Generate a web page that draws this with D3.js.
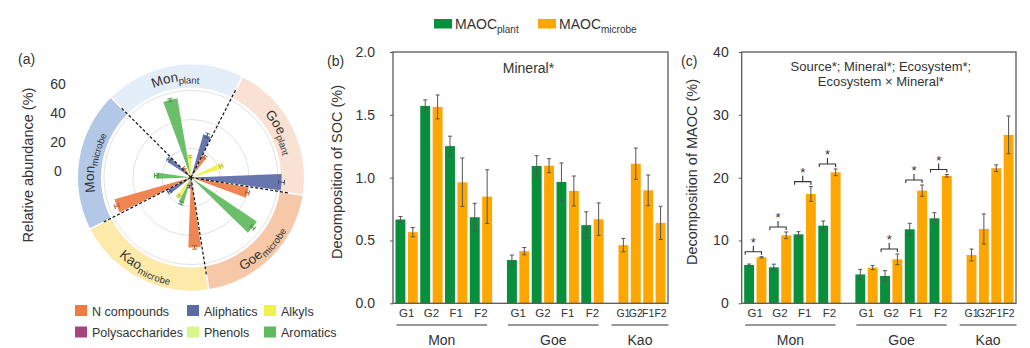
<!DOCTYPE html>
<html>
<head>
<meta charset="utf-8">
<script src="https://cdn.jsdelivr.net/npm/d3@7"></script>
<style>
body { margin: 0; background: #fff; }
svg { font-family: "Liberation Sans", Arial, sans-serif; }
</style>
</head>
<body>
<script>
// ---- panel (a) data: relative abundance (%) per sector, ring order of compounds
var ringCompounds = ["N compounds", "Polysaccharides", "Aromatics", "Alkyls", "Phenols", "Aliphatics"];
var legendCompounds = ["N compounds", "Aliphatics", "Alkyls", "Polysaccharides", "Phenols", "Aromatics"];
var sectorNames = ["Mon", "Goe", "Goe", "Kao", "Mon"];
var sectorSubs = ["plant", "plant", "microbe", "microbe", "microbe"];
var monPlant = [7.8, 1.5, 55.4, 14.5, 2.0, 31.0];
var goePlant = [17.1, 1.0, 1.5, 22.2, 1.2, 62.5];
var goeMicrobe = [40.3, 1.5, 54.7, 2.0, 1.0, 3.0];
var kaoMicrobe = [48.3, 6.5, 18.9, 15.3, 3.0, 17.8];
var monMicrobe = [54.8, 1.5, 24.0, 2.0, 1.5, 19.6];
var monPlantErr = [0.8, 0.3, 1.0, 0.8, 0.3, 1.5];
var goePlantErr = [1.0, 0.3, 0.3, 1.0, 0.3, 2.0];
var goeMicrobeErr = [1.2, 0.3, 1.5, 0.3, 0.3, 0.5];
var kaoMicrobeErr = [1.2, 0.8, 1.0, 0.8, 0.5, 1.0];
var monMicrobeErr = [1.5, 0.3, 1.2, 0.3, 0.3, 1.0];
var radialTicks = [0, 20, 40, 60];

// ---- panels (b) and (c) data
var minerals = ["Mon", "Goe", "Kao"];
var ecosystems = ["G1", "G2", "F1", "F2"];
// plant values exist for Mon and Goe only; microbe for Mon, Goe, Kao
var socPlant = [0.667, 1.571, 1.251, 0.685, 0.344, 1.093, 0.966, 0.622];
var socPlantErr = [0.024, 0.048, 0.079, 0.111, 0.040, 0.082, 0.151, 0.106];
var socMicrobe = [0.566, 1.563, 0.963, 0.849, 0.415, 1.095, 0.894, 0.669, 0.463, 1.111, 0.899, 0.640];
var socMicrobeErr = [0.037, 0.095, 0.193, 0.214, 0.029, 0.056, 0.119, 0.130, 0.053, 0.124, 0.122, 0.132];
var maocPlant = [6.1, 5.73, 10.98, 12.36, 4.6, 4.35, 11.78, 13.53];
var maocPlantErr = [0.15, 0.5, 0.42, 0.74, 0.8, 0.85, 0.95, 0.9];
var maocMicrobe = [7.32, 10.82, 17.4, 20.85, 5.68, 7.0, 17.93, 20.3, 7.69, 11.83, 21.5, 26.8];
var maocMicrobeErr = [0.1, 0.53, 1.17, 0.53, 0.32, 0.85, 0.9, 0.2, 0.95, 2.4, 0.53, 3.0];
var maocSig = [true, true, true, true, false, true, true, true];
var socTicks = [0, 0.5, 1.0, 1.5, 2.0];
var maocTicks = [0, 10, 20, 30, 40];

var compoundColor = {
  "N compounds": "#ee7b43",
  "Polysaccharides": "#a4457d",
  "Aromatics": "#5fba5d",
  "Alkyls": "#eef24a",
  "Phenols": "#d6f78a",
  "Aliphatics": "#5a6aa5"
};
var bandColors = ["#e4eef9", "#f9e2d3", "#f6c8a7", "#fde9a9", "#b3c7e7"];
var plantColor = "#078f3c";
var microbeColor = "#ffa600";
var textColor = "#333";

var svg = d3.select('body')
  .append('svg')
  .attr('width', 1030)
  .attr('height', 348);

// ================= panel (a) =================
var rad = Math.PI / 180;
var cx = 191, cy = 177.5;
var ringInner = 90, ringOuter = 113;
var sectorStart = -45, sectorSpan = 72, barSpan = 12;
var rScale = d3.scaleLinear().domain([0, 60]).range([0, 87]);
var sectorValues = [monPlant, goePlant, goeMicrobe, kaoMicrobe, monMicrobe];
var sectorErrs = [monPlantErr, goePlantErr, goeMicrobeErr, kaoMicrobeErr, monMicrobeErr];

function polar(a, r) { return [r * Math.sin(a * rad), -r * Math.cos(a * rad)]; }

var gA = svg.append('g')
  .attr('transform', 'translate(' + cx + ',' + cy + ')');

var ringArc = d3.arc()
  .innerRadius(ringInner)
  .outerRadius(ringOuter)
  .padAngle(0.013)
  .padRadius(ringOuter);

gA.selectAll('path.band')
  .data(sectorNames)
  .enter()
  .append('path')
  .attr('class', 'band')
  .attr('d', function(d, i) {
    return ringArc({ startAngle: (sectorStart + i * sectorSpan) * rad,
                     endAngle: (sectorStart + (i + 1) * sectorSpan) * rad });
  })
  .attr('fill', function(d, i) { return bandColors[i]; });

// grid circles
gA.selectAll('circle.grid')
  .data(radialTicks.slice(1))
  .enter()
  .append('circle')
  .attr('r', function(d) { return rScale(d); })
  .attr('fill', 'none')
  .attr('stroke', '#e2e2e2')
  .attr('stroke-width', 1);

// bars
var bars = [];
sectorValues.forEach(function(vals, i) {
  vals.forEach(function(v, j) {
    bars.push({
      angle: sectorStart + i * sectorSpan + barSpan / 2 + j * barSpan,
      value: v,
      err: sectorErrs[i][j],
      color: compoundColor[ringCompounds[j]]
    });
  });
});

var wedge = d3.arc().innerRadius(0);
gA.selectAll('path.bar')
  .data(bars)
  .enter()
  .append('path')
  .attr('d', function(d) {
    return wedge({ outerRadius: rScale(d.value),
                   startAngle: (d.angle - 5.2) * rad,
                   endAngle: (d.angle + 5.2) * rad });
  })
  .attr('fill', function(d) { return d.color; })
  .attr('fill-opacity', 0.92);

// error bars along the bar axis
var errG = gA.selectAll('g.err')
  .data(bars.filter(function(d) { return d.value > 3; }))
  .enter()
  .append('g')
  .attr('transform', function(d) { return 'rotate(' + d.angle + ')'; })
  .attr('stroke', function(d) { return d3.color(d.color).darker(0.7); })
  .attr('stroke-width', 1);
errG.append('line')
  .attr('x1', 0).attr('x2', 0)
  .attr('y1', function(d) { return -rScale(d.value - d.err); })
  .attr('y2', function(d) { return -rScale(d.value + d.err); });
errG.append('line')
  .attr('x1', -2.5).attr('x2', 2.5)
  .attr('y1', function(d) { return -rScale(d.value + d.err); })
  .attr('y2', function(d) { return -rScale(d.value + d.err); });
errG.append('line')
  .attr('x1', -2.5).attr('x2', 2.5)
  .attr('y1', function(d) { return -rScale(d.value - d.err); })
  .attr('y2', function(d) { return -rScale(d.value - d.err); });

// dashed sector dividers
gA.selectAll('line.divider')
  .data(sectorNames)
  .enter()
  .append('line')
  .attr('x1', 0).attr('y1', 0)
  .attr('x2', function(d, i) { return polar(sectorStart + i * sectorSpan, ringInner + 8)[0]; })
  .attr('y2', function(d, i) { return polar(sectorStart + i * sectorSpan, ringInner + 8)[1]; })
  .attr('stroke', '#111')
  .attr('stroke-width', 1.2)
  .attr('stroke-dasharray', '3,2');

// ring labels on curved paths
var defs = svg.append('defs');
sectorNames.forEach(function(name, i) {
  var mid = sectorStart + i * sectorSpan + sectorSpan / 2;
  var norm = (mid + 360) % 360;
  var flip = norm > 90 && norm < 270;
  var r = flip ? 106.5 : 97;
  var a1 = flip ? mid + 35 : mid - 35;
  var a2 = flip ? mid - 35 : mid + 35;
  var p1 = polar(a1, r), p2 = polar(a2, r);
  defs.append('path')
    .attr('id', 'ringLabel' + i)
    .attr('d', 'M' + p1[0] + ',' + p1[1] + ' A' + r + ',' + r + ' 0 0 ' + (flip ? 0 : 1) + ' ' + p2[0] + ',' + p2[1]);
  var tp = gA.append('text')
    .attr('fill', textColor)
    .style('font-size', '13.5px')
    .append('textPath')
    .attr('href', '#ringLabel' + i)
    .attr('startOffset', '50%')
    .attr('text-anchor', 'middle');
  tp.append('tspan').text(name);
  tp.append('tspan').attr('dy', 3).style('font-size', '9.5px').text(sectorSubs[i]);
});

// radial value labels
svg.selectAll('text.rtick')
  .data(radialTicks)
  .enter()
  .append('text')
  .attr('x', 58)
  .attr('y', function(d) { return cy - rScale(d) - 2; })
  .attr('text-anchor', 'middle')
  .attr('fill', textColor)
  .style('font-size', '14px')
  .text(function(d) { return d; });

svg.append('text')
  .attr('transform', 'translate(33,165) rotate(-90)')
  .attr('text-anchor', 'middle')
  .attr('fill', textColor)
  .style('font-size', '14.5px')
  .text('Relative abundance (%)');

svg.append('text')
  .attr('x', 18).attr('y', 64)
  .attr('fill', textColor)
  .style('font-size', '14px')
  .text('(a)');

// compound legend
var legA = svg.selectAll('g.legA')
  .data(legendCompounds)
  .enter()
  .append('g')
  .attr('transform', function(d, i) {
    var colX = [75, 187, 264];
    return 'translate(' + colX[i % 3] + ',' + (305 + Math.floor(i / 3) * 21.5) + ')';
  });
legA.append('rect')
  .attr('width', 12).attr('height', 11)
  .attr('fill', function(d) { return compoundColor[d]; });
legA.append('text')
  .attr('x', 17).attr('y', 10.5)
  .attr('fill', textColor)
  .style('font-size', '12.5px')
  .text(function(d) { return d; });

// ================= panels (b) and (c) =================
var plotTop = 52, plotBottom = 303.3;

function slotKeys() {
  var keys = [];
  minerals.slice(0, 2).forEach(function(m, mi) {
    ecosystems.forEach(function(e) { keys.push(m + e + 'p'); keys.push(m + e + 'm'); });
    keys.push('gap' + mi);
  });
  ecosystems.forEach(function(e) { keys.push('Kao' + e + 'm'); });
  return keys;
}

function drawPanel(o) {
  var x = d3.scaleBand()
    .domain(slotKeys())
    .range([o.x0, o.x1])
    .paddingInner(0.2)
    .paddingOuter(0.2);
  var y = d3.scaleLinear().domain(o.domain).range([plotBottom, plotTop]);
  var bw = x.bandwidth();
  var g = svg.append('g');

  var plantBars = o.plant.map(function(v, i) {
    var m = minerals[Math.floor(i / 4)], e = ecosystems[i % 4];
    return { key: m + e + 'p', value: v, err: o.plantErr[i], color: plantColor };
  });
  var microbeBars = o.microbe.map(function(v, i) {
    var m = minerals[Math.floor(i / 4)], e = ecosystems[i % 4];
    return { key: m + e + 'm', value: v, err: o.microbeErr[i], color: microbeColor };
  });
  var all = plantBars.concat(microbeBars);

  g.selectAll('rect.bar')
    .data(all)
    .enter()
    .append('rect')
    .attr('x', function(d) { return x(d.key); })
    .attr('width', bw)
    .attr('y', function(d) { return y(d.value); })
    .attr('height', function(d) { return plotBottom - y(d.value); })
    .attr('fill', function(d) { return d.color; });

  var eb = g.selectAll('g.eb')
    .data(all)
    .enter()
    .append('g')
    .attr('transform', function(d) { return 'translate(' + (x(d.key) + bw / 2) + ',0)'; })
    .attr('stroke', '#555')
    .attr('stroke-width', 1);
  eb.append('line')
    .attr('y1', function(d) { return y(d.value - d.err); })
    .attr('y2', function(d) { return y(d.value + d.err); });
  eb.append('line').attr('x1', -2).attr('x2', 2)
    .attr('y1', function(d) { return y(d.value + d.err); })
    .attr('y2', function(d) { return y(d.value + d.err); });
  eb.append('line').attr('x1', -2).attr('x2', 2)
    .attr('y1', function(d) { return y(d.value - d.err); })
    .attr('y2', function(d) { return y(d.value - d.err); });

  // significance brackets between plant and microbe bars
  if (o.sig) {
    var sigPairs = plantBars.filter(function(d, i) { return o.sig[i]; }).map(function(d) {
      var i = plantBars.indexOf(d);
      var mb = microbeBars[i];
      return { x1: x(d.key) + 1, x2: x(mb.key) + bw / 2,
               top: y(Math.max(d.value + d.err, mb.value + mb.err)) - 5 };
    });
    var br = g.selectAll('g.br')
      .data(sigPairs)
      .enter()
      .append('g');
    br.append('path')
      .attr('d', function(d) {
        var mid = (d.x1 + d.x2) / 2;
        return 'M' + d.x1 + ',' + (d.top + 3) + 'V' + d.top + 'H' + d.x2 + 'V' + (d.top + 3) +
               'M' + mid + ',' + d.top + 'V' + (d.top - 6);
      })
      .attr('fill', 'none')
      .attr('stroke', '#333')
      .attr('stroke-width', 1.1);
    br.append('text')
      .attr('x', function(d) { return (d.x1 + d.x2) / 2; })
      .attr('y', function(d) { return d.top - 5; })
      .attr('text-anchor', 'middle')
      .attr('fill', '#333')
      .style('font-size', '13px')
      .text('*');
  }

  // y axis
  var axis = d3.axisLeft(y)
    .tickValues(o.ticks)
    .tickFormat(o.format)
    .tickSize(3)
    .tickPadding(o.tickPad);
  var ag = svg.append('g')
    .attr('transform', 'translate(' + o.x0 + ',0)')
    .call(axis);
  ag.select('.domain').remove();
  ag.selectAll('line').attr('stroke', '#595959');
  ag.selectAll('text')
    .attr('fill', textColor)
    .style('font-size', '14px')
    .style('font-family', '"Liberation Sans", Arial, sans-serif');

  // frame
  svg.append('rect')
    .attr('x', o.x0).attr('y', plotTop)
    .attr('width', o.x1 - o.x0).attr('height', plotBottom - plotTop)
    .attr('fill', 'none')
    .attr('stroke', '#595959')
    .attr('stroke-width', 1.3);

  // ecosystem tick labels
  var labels = [];
  minerals.forEach(function(m, mi) {
    ecosystems.forEach(function(e) {
      var cxp = mi < 2 ? (x(m + e + 'p') + x(m + e + 'm') + bw) / 2 : x(m + e + 'm') + bw / 2;
      labels.push({ text: e, x: cxp, tight: mi == 2 });
    });
  });
  svg.selectAll(null)
    .data(labels)
    .enter()
    .append('text')
    .attr('x', function(d) { return d.x; })
    .attr('y', 317)
    .attr('text-anchor', 'middle')
    .attr('fill', textColor)
    .style('font-size', function(d) { return d.tight ? '10.5px' : '11.5px'; })
    .text(function(d) { return d.text; });

  // mineral group lines and names
  var groups = minerals.map(function(m, mi) {
    var first = mi < 2 ? m + 'G1p' : m + 'G1m';
    var last = m + 'F2m';
    var a = x(first), b = x(last) + bw;
    if (mi < 2) { a += 1; b -= 5; } else { a -= 7; b += 3; }
    return { name: m, a: a, b: b };
  });
  svg.selectAll(null)
    .data(groups)
    .enter()
    .append('line')
    .attr('x1', function(d) { return d.a; })
    .attr('x2', function(d) { return d.b; })
    .attr('y1', 325).attr('y2', 325)
    .attr('stroke', '#333')
    .attr('stroke-width', 1);
  svg.selectAll(null)
    .data(groups)
    .enter()
    .append('text')
    .attr('x', function(d) { return (d.a + d.b) / 2; })
    .attr('y', 345)
    .attr('text-anchor', 'middle')
    .attr('fill', textColor)
    .style('font-size', '14px')
    .text(function(d) { return d.name; });

  // axis title, panel letter, annotation
  svg.append('text')
    .attr('transform', 'translate(' + o.titleX + ',172) rotate(-90)')
    .attr('text-anchor', 'middle')
    .attr('fill', textColor)
    .style('font-size', '14.5px')
    .text(o.title);
  svg.append('text')
    .attr('x', o.letterX).attr('y', 66)
    .attr('fill', textColor)
    .style('font-size', '14px')
    .text(o.letter);
  svg.selectAll(null)
    .data(o.note)
    .enter()
    .append('text')
    .attr('x', (o.x0 + o.x1) / 2 + o.noteDx)
    .attr('y', function(d, i) { return o.noteY + i * 14.5; })
    .attr('text-anchor', 'middle')
    .attr('fill', textColor)
    .style('font-size', o.noteSize)
    .text(function(d) { return d; });
}

drawPanel({
  x0: 393, x1: 668, domain: [0, 2], ticks: socTicks, format: d3.format('.1f'), tickPad: 15,
  plant: socPlant, plantErr: socPlantErr, microbe: socMicrobe, microbeErr: socMicrobeErr,
  title: 'Decomposition of SOC (%)', titleX: 342, letter: '(b)', letterX: 327,
  note: ['Mineral*'], noteY: 73, noteDx: -2, noteSize: '14px'
});

drawPanel({
  x0: 741.7, x1: 1016, domain: [0, 40], ticks: maocTicks, format: d3.format('d'), tickPad: 10,
  plant: maocPlant, plantErr: maocPlantErr, microbe: maocMicrobe, microbeErr: maocMicrobeErr,
  sig: maocSig,
  title: 'Decomposition of MAOC (%)', titleX: 697, letter: '(c)', letterX: 681,
  note: ['Source*; Mineral*; Ecosystem*;', 'Ecosystem \u00d7 Mineral*'], noteY: 71, noteDx: 2, noteSize: '13px'
});

// top legend for source
var sources = [{ name: 'MAOC', sub: 'plant', color: plantColor, x: 434 },
               { name: 'MAOC', sub: 'microbe', color: microbeColor, x: 538 }];
var legTop = svg.selectAll('g.legTop')
  .data(sources)
  .enter()
  .append('g')
  .attr('transform', function(d) { return 'translate(' + d.x + ',19)'; });
legTop.append('rect')
  .attr('width', 18).attr('height', 9.5)
  .attr('fill', function(d) { return d.color; });
var lt = legTop.append('text')
  .attr('x', 21).attr('y', 10)
  .attr('fill', textColor)
  .style('font-size', '14px');
lt.append('tspan').text(function(d) { return d.name; });
lt.append('tspan').attr('dy', 3.5).style('font-size', '10px').text(function(d) { return d.sub; });
</script>
</body>
</html>
